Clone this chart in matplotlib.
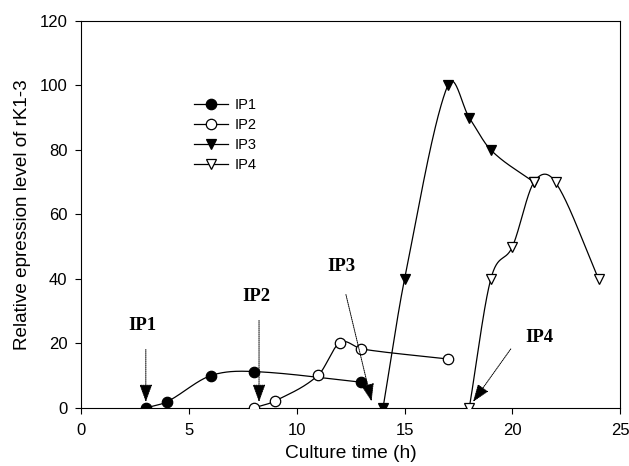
import matplotlib.pyplot as plt
import numpy as np

plt.rcParams['font.family'] = ['Liberation Sans', 'DejaVu Sans']

# data
ip1_x = [3, 4, 6, 8, 13]
ip1_y = [0, 2, 10, 11.3, 8]
ip2_x = [8, 9, 11, 12, 13, 17]
ip2_y = [0, 2.2, 10.2, 20.3, 18.3, 15.2]
ip3_x = [14, 15, 17, 18, 19, 21]
ip3_y = [0, 40, 100, 90, 80, 70]
ip4_x = [18, 19, 20, 21, 22, 24]
ip4_y = [0, 40, 50, 70, 70, 40]

# annotation labels: (text, text pos, arrow start, arrow end)
notes = [
    ("IP1", (2.86, 25.7), (3.0, 19), (3.0, 1.0)),
    ("IP2", (8.12, 34.5), (8.25, 28), (8.25, 1.0)),
    ("IP3", (12.06, 44), (12.25, 36), (13.5, 1.2)),
    ("IP4", (21.26, 21.9), (20.0, 19), (18.1, 1.2)),
]


def smooth(x, y, n=60):
    # cardinal (Catmull-Rom) curve through the points, like SigmaPlot's spline
    x = np.asarray(x, float)
    y = np.asarray(y, float)
    k = len(x)
    m = np.zeros(k)
    m[0] = (y[1] - y[0]) / (x[1] - x[0])
    m[-1] = (y[-1] - y[-2]) / (x[-1] - x[-2])
    m[1:-1] = (y[2:] - y[:-2]) / (x[2:] - x[:-2])
    xs_all, ys_all = [], []
    for i in range(k - 1):
        h = x[i + 1] - x[i]
        t = np.linspace(0, 1, n)
        h00 = 2 * t ** 3 - 3 * t ** 2 + 1
        h10 = t ** 3 - 2 * t ** 2 + t
        h01 = -2 * t ** 3 + 3 * t ** 2
        h11 = t ** 3 - t ** 2
        xs_all.append(x[i] + t * h)
        ys_all.append(h00 * y[i] + h10 * h * m[i] + h01 * y[i + 1] + h11 * h * m[i + 1])
    return np.concatenate(xs_all), np.concatenate(ys_all)


fig = plt.figure(figsize=(6.29, 4.66), dpi=100)
ax = fig.add_axes([0.129, 0.1245, 0.857, 0.8305])

series = [
    (ip1_x, ip1_y, 'o', 'black', 'IP1'),
    (ip2_x, ip2_y, 'o', 'white', 'IP2'),
    (ip3_x, ip3_y, 'v', 'black', 'IP3'),
    (ip4_x, ip4_y, 'v', 'white', 'IP4'),
]
for x, y, m, fc, lab in series:
    xs, ys = smooth(x, y)
    ax.plot(xs, ys, color='black', lw=0.9, zorder=2)
    ax.plot(x, y, ls='none', marker=m, ms=7.5, mfc=fc, mec='black', mew=0.9, zorder=3)
    ax.plot([], [], color='black', lw=0.9, marker=m, ms=7.5, mfc=fc, mec='black',
            mew=0.9, label=lab)

for txt, tpos, a0, a1 in notes:
    ax.text(tpos[0], tpos[1], txt, family='Liberation Serif', fontweight='bold',
            fontsize=13.5, ha='center', va='center')
    ax.annotate('', xy=a1, xytext=a0,
                arrowprops=dict(arrowstyle='-|>,head_length=1.1,head_width=0.4',
                                linestyle=(0, (1, 1)), lw=0.7, color='black'))

ax.set_xlim(0, 25)
ax.set_ylim(0, 120)
ax.set_xticks([0, 5, 10, 15, 20, 25])
ax.set_yticks([0, 20, 40, 60, 80, 100, 120])
ax.tick_params(direction='out', length=4, labelsize=12)
ax.tick_params(axis='x', pad=7)
ax.tick_params(axis='y', pad=6)
ax.set_xlabel('Culture time (h)', fontsize=13.8, labelpad=5)
ax.set_ylabel('Relative epression level of rK1-3', fontsize=13.6, labelpad=6)

ax.legend(loc='upper left', bbox_to_anchor=(0.185, 0.835), frameon=False,
          fontsize=10.5, handlelength=2.3, labelspacing=0.42, handletextpad=0.5)

fig.savefig('out.png', dpi=100)
